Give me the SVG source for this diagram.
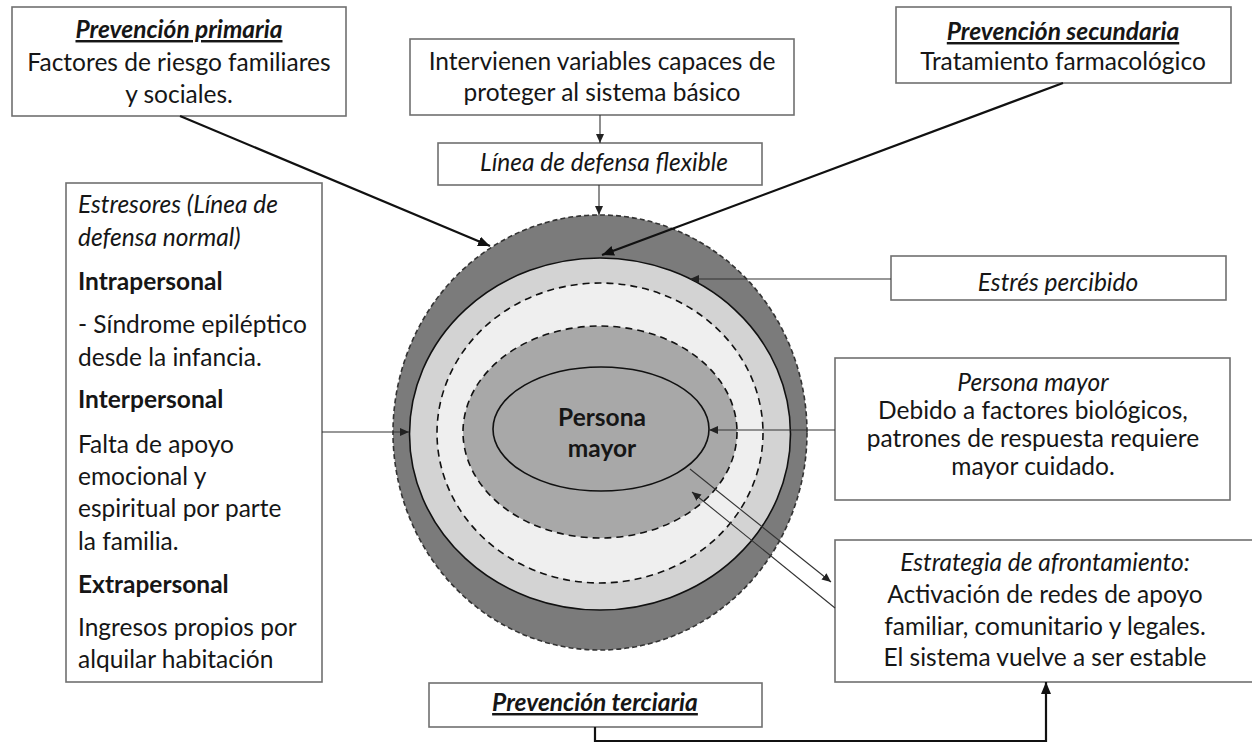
<svg xmlns="http://www.w3.org/2000/svg" width="1252" height="744" viewBox="0 0 1252 744">
<defs>
<style>
.box{fill:#fff;stroke:#707070;stroke-width:1.6}
.t{font-family:Lato,"Liberation Sans",sans-serif;font-size:24.5px;fill:#161616}
.c{text-anchor:middle}
.i{font-style:italic}
.b{font-weight:bold}
.h{font-weight:bold;font-style:italic;text-decoration:underline}
.thick{stroke:#111;stroke-width:2.2;fill:none}
.thin{stroke:#333;stroke-width:1.1;fill:none}
</style>
<marker id="ak" markerUnits="userSpaceOnUse" markerWidth="13" markerHeight="11" refX="12" refY="5" orient="auto"><path d="M0,0 L12,5 L0,10 z" fill="#111"/></marker>
<marker id="an" markerUnits="userSpaceOnUse" markerWidth="10" markerHeight="9" refX="9" refY="4" orient="auto"><path d="M0,0 L9,4 L0,8 z" fill="#222"/></marker>
</defs>
<rect width="1252" height="744" fill="#fff"/>

<g id="circle">
<ellipse cx="600" cy="432.5" rx="207" ry="217.5" fill="#7b7b7b" stroke="#333" stroke-width="1.6" stroke-dasharray="5,3"/>
<ellipse cx="600" cy="434" rx="190.5" ry="176" fill="#d3d3d3" stroke="#111" stroke-width="1.6"/>
<ellipse cx="600" cy="433" rx="163" ry="150" fill="#efefef" stroke="#111" stroke-width="1.6" stroke-dasharray="7,5"/>
<ellipse cx="600" cy="432" rx="137" ry="106" fill="#a8a8a8" stroke="#111" stroke-width="1.6" stroke-dasharray="7,5"/>
<ellipse cx="601" cy="429" rx="108" ry="62" fill="#a8a8a8" stroke="#111" stroke-width="1.6"/>
<text class="t b c" x="602" y="426">Persona</text>
<text class="t b c" x="602" y="457">mayor</text>
</g>

<g id="primaria">
<rect class="box" x="12" y="7" width="334" height="109"/>
<text class="t h c" x="179" y="38">Prevención primaria</text>
<text class="t c" x="179" y="71">Factores de riesgo familiares</text>
<text class="t c" x="179" y="103">y sociales.</text>
</g>

<g id="intervienen">
<rect class="box" x="410" y="39" width="384" height="76"/>
<text class="t c" x="602" y="70">Intervienen variables capaces de</text>
<text class="t c" x="602" y="101">proteger al sistema básico</text>
</g>

<g id="secundaria">
<rect class="box" x="896" y="7" width="335" height="76"/>
<text class="t h c" x="1063" y="40">Prevención secundaria</text>
<text class="t c" x="1063" y="70">Tratamiento farmacológico</text>
</g>

<g id="linea">
<rect class="box" x="438" y="143" width="324" height="42"/>
<text class="t i c" x="604" y="171">Línea de defensa flexible</text>
</g>

<g id="estresores">
<rect class="box" x="66" y="183" width="256" height="499"/>
<text class="t i" x="78" y="213">Estresores (Línea de</text>
<text class="t i" x="78" y="246">defensa normal)</text>
<text class="t b" x="78" y="290">Intrapersonal</text>
<text class="t" x="78" y="333">- Síndrome epiléptico</text>
<text class="t" x="78" y="366">desde la infancia.</text>
<text class="t b" x="78" y="408">Interpersonal</text>
<text class="t" x="78" y="453">Falta de apoyo</text>
<text class="t" x="78" y="485">emocional y</text>
<text class="t" x="78" y="517">espiritual por parte</text>
<text class="t" x="78" y="550">la familia.</text>
<text class="t b" x="78" y="593">Extrapersonal</text>
<text class="t" x="78" y="636">Ingresos propios por</text>
<text class="t" x="78" y="668">alquilar habitación</text>
</g>

<g id="estres">
<rect class="box" x="891" y="256" width="335" height="44"/>
<text class="t i c" x="1058" y="291">Estrés percibido</text>
</g>

<g id="persona">
<rect class="box" x="835" y="358" width="395" height="142"/>
<text class="t i c" x="1033" y="391">Persona mayor</text>
<text class="t c" x="1033" y="419">Debido a factores biológicos,</text>
<text class="t c" x="1033" y="447">patrones de respuesta requiere</text>
<text class="t c" x="1033" y="475">mayor cuidado.</text>
</g>

<g id="estrategia">
<rect class="box" x="835" y="540" width="425" height="142"/>
<text class="t i c" x="1045" y="571">Estrategia de afrontamiento:</text>
<text class="t c" x="1045" y="603">Activación de redes de apoyo</text>
<text class="t c" x="1045" y="635">familiar, comunitario y legales.</text>
<text class="t c" x="1045" y="666">El sistema vuelve a ser estable</text>
</g>

<g id="terciaria">
<rect class="box" x="429" y="683" width="333" height="44"/>
<text class="t h c" x="595" y="711">Prevención terciaria</text>
</g>

<g id="connectors">
<line class="thick" x1="180" y1="116" x2="490" y2="246" marker-end="url(#ak)"/>
<line class="thick" x1="1063" y1="83" x2="602" y2="255" marker-end="url(#ak)"/>
<line class="thin" x1="600" y1="115" x2="600" y2="143" marker-end="url(#an)"/>
<line class="thin" x1="599" y1="185" x2="599" y2="215" marker-end="url(#an)"/>
<line class="thin" x1="891" y1="279" x2="690" y2="279" marker-end="url(#an)"/>
<line class="thin" x1="835" y1="430" x2="709" y2="430" marker-end="url(#an)"/>
<line class="thin" x1="322" y1="432" x2="409" y2="432" marker-end="url(#an)"/>
<line class="thin" x1="690" y1="469" x2="831" y2="582" marker-end="url(#an)"/>
<line class="thin" x1="835" y1="608" x2="692" y2="492" marker-end="url(#an)"/>
<polyline class="thick" points="595,727 595,741 1046,741 1046,682" marker-end="url(#ak)"/>
</g>
</svg>
